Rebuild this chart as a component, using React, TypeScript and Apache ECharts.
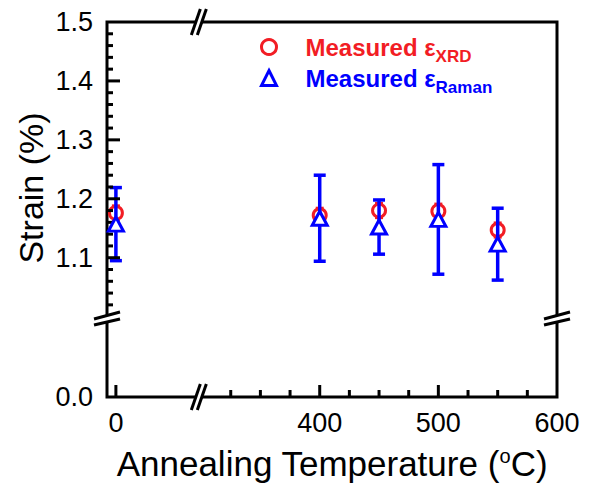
import React, { useEffect, useRef } from 'react';
import * as echarts from 'echarts';

const temps = [0, 400, 450, 500, 550];
const xrdStrain = [1.176, 1.172, 1.18, 1.179, 1.147];
const xrdErr = [0.012, 0.012, 0.012, 0.012, 0.012];
const ramanStrain = [1.157, 1.167, 1.152, 1.165, 1.123];
const ramanErr = [0.062, 0.073, 0.046, 0.093, 0.061];

const xLabelValues = [0, 400, 500, 600];
const xMajorTicks = [0, 400, 500];
const xMinorTicks = [325, 350, 375, 425, 450, 475, 525, 550, 575];
const yLabelValues = [0, 1.1, 1.2, 1.3, 1.4, 1.5];
const yMajorTicks = [1.1, 1.2, 1.3, 1.4];
const yMinorTicks = [
  1.02, 1.04, 1.06, 1.08, 1.12, 1.14, 1.16, 1.18, 1.22, 1.24, 1.26, 1.28,
  1.32, 1.34, 1.36, 1.38, 1.42, 1.44, 1.46, 1.48,
];
const X_MIN = -7.5, X_MAX = 600;
const Y_MIN = 0, Y_MAX = 1.5;
const xBreak = { start: 68, end: 300 };
const yBreak = { start: 0.13, end: 1.0 };

const RED = '#f21d24';
const BLUE = '#0000ff';
const FONT = '"Liberation Sans", Arial, Helvetica, sans-serif';

const GL = 107, GR = 557, GT = 22, GB = 397;

function errRender(capHalf: number, color: string, lw: number, withTicks: boolean) {
  return (params: any, api: any) => {
    const x = api.value(0);
    const lo = api.value(1);
    const hi = api.value(2);
    const top = api.coord([x, hi]);
    const bot = api.coord([x, lo]);
    const style = { stroke: color, lineWidth: lw, fill: 'none' };
    const children: any[] = [
      { type: 'line', shape: { x1: top[0], y1: top[1], x2: bot[0], y2: bot[1] }, style },
      { type: 'line', shape: { x1: top[0] - capHalf, y1: top[1], x2: top[0] + capHalf, y2: top[1] }, style },
      { type: 'line', shape: { x1: bot[0] - capHalf, y1: bot[1], x2: bot[0] + capHalf, y2: bot[1] }, style },
    ];
    if (withTicks && params.dataIndex === 0) {
      // inward axis ticks, placed through the axes' scales (interior partner values avoid the extent edges)
      const tickStyle = { stroke: '#000', lineWidth: 3, fill: 'none' };
      const yRef = 1.2;
      const xRef = 450;
      const addX = (vals: number[], len: number) =>
        vals.forEach((v) => {
          const px = api.coord([v, yRef])[0];
          if (isFinite(px))
            children.push({ type: 'line', shape: { x1: px, y1: GB, x2: px, y2: GB - len }, style: tickStyle });
        });
      const addY = (vals: number[], len: number) =>
        vals.forEach((v) => {
          const py = api.coord([xRef, v])[1];
          if (isFinite(py))
            children.push({ type: 'line', shape: { x1: GL, y1: py, x2: GL + len, y2: py }, style: tickStyle });
        });
      addX(xMajorTicks, 12);
      addX(xMinorTicks, 7);
      addY(yMajorTicks, 13);
      addY(yMinorTicks, 6);
    }
    return { type: 'group', children };
  };
}

function xMark(cx: number, cy: number) {
  const p1a = [cx - 7.5, cy + 13], p1b = [cx + 1.5, cy - 13];
  const p2a = [cx - 1.5, cy + 13], p2b = [cx + 7.5, cy - 13];
  const ls = { stroke: '#000', lineWidth: 3 };
  return [
    { type: 'polygon', z: 100, shape: { points: [p1a, p1b, p2b, p2a] }, style: { fill: '#fff' } },
    { type: 'line', z: 101, shape: { x1: p1a[0], y1: p1a[1], x2: p1b[0], y2: p1b[1] }, style: ls },
    { type: 'line', z: 101, shape: { x1: p2a[0], y1: p2a[1], x2: p2b[0], y2: p2b[1] }, style: ls },
  ];
}

function yMark(cx: number, cy: number) {
  const p1a = [cx - 13, cy + 0.5], p1b = [cx + 13, cy - 6.5];
  const p2a = [cx - 13, cy + 6.5], p2b = [cx + 13, cy + 0.5];
  const ls = { stroke: '#000', lineWidth: 3 };
  return [
    { type: 'polygon', z: 100, shape: { points: [p1a, p1b, p2b, p2a] }, style: { fill: '#fff' } },
    { type: 'line', z: 101, shape: { x1: p1a[0], y1: p1a[1], x2: p1b[0], y2: p1b[1] }, style: ls },
    { type: 'line', z: 101, shape: { x1: p2a[0], y1: p2a[1], x2: p2b[0], y2: p2b[1] }, style: ls },
  ];
}

export default function App() {
  const ref = useRef<HTMLDivElement>(null);
  useEffect(() => {
    if (!ref.current) return;
    const chart = echarts.init(ref.current, null, { renderer: 'svg' });

    const option: any = {
      animation: false,
      grid: {
        left: GL,
        top: GT,
        right: 595 - GR,
        bottom: 487 - GB,
        show: true,
        borderColor: '#000',
        borderWidth: 3,
        backgroundColor: 'transparent',
        outerBoundsMode: 'none',
      },
      xAxis: {
        type: 'value',
        min: X_MIN,
        max: X_MAX,
        breaks: [{ start: xBreak.start, end: xBreak.end, gap: '1%' }],
        breakArea: { show: false },
        splitLine: { show: false },
        axisLine: { show: false, onZero: false },
        axisTick: { show: false },
        axisLabel: {
          show: true,
          customValues: xLabelValues,
          fontSize: 27,
          fontFamily: FONT,
          color: '#000',
          margin: 12,
          formatter: (v: number) => String(Math.round(v)),
        },
      },
      yAxis: {
        type: 'value',
        min: Y_MIN,
        max: Y_MAX,
        breaks: [{ start: yBreak.start, end: yBreak.end, gap: '1%' }],
        breakArea: { show: false },
        splitLine: { show: false },
        axisLine: { show: false, onZero: false },
        axisTick: { show: false },
        axisLabel: {
          show: true,
          customValues: yLabelValues,
          fontSize: 27,
          fontFamily: FONT,
          color: '#000',
          margin: 14,
          formatter: (v: number) => v.toFixed(1),
        },
      },
      legend: {
        orient: 'vertical',
        left: 260,
        top: 35,
        padding: 0,
        itemWidth: 15,
        itemHeight: 15,
        itemGap: 1,
        selectedMode: false,
        data: [
          { name: 'XRD', icon: 'circle', itemStyle: { color: '#fff', borderColor: RED, borderWidth: 3 } },
          { name: 'Raman', icon: 'triangle', itemStyle: { color: '#fff', borderColor: BLUE, borderWidth: 3 } },
        ],
        formatter: (name: string) =>
          name === 'XRD' ? '{mr|Measured ε}{sr|XRD}' : '{mb|Measured ε}{sb|Raman}',
        textStyle: {
          fontFamily: FONT,
          rich: {
            mr: { fontSize: 24, fontWeight: 'bold', color: RED, fontFamily: FONT, padding: [0, 0, 0, 24] },
            sr: { fontSize: 17, fontWeight: 'bold', color: RED, fontFamily: FONT, verticalAlign: 'bottom', lineHeight: 36 },
            mb: { fontSize: 24, fontWeight: 'bold', color: BLUE, fontFamily: FONT, padding: [0, 0, 0, 24] },
            sb: { fontSize: 17, fontWeight: 'bold', color: BLUE, fontFamily: FONT, verticalAlign: 'bottom', lineHeight: 36 },
          },
        },
      },
      series: [
        {
          type: 'custom',
          name: 'XRD error',
          renderItem: errRender(4, RED, 3, false),
          data: temps.map((t, i) => [t, xrdStrain[i] - xrdErr[i], xrdStrain[i] + xrdErr[i]]),
          encode: { x: 0, y: [1, 2] },
          z: 2,
        },
        {
          type: 'scatter',
          name: 'XRD',
          symbol: 'circle',
          symbolSize: 13,
          itemStyle: { color: '#fff', borderColor: RED, borderWidth: 3, opacity: 1 },
          data: temps.map((t, i) => [t, xrdStrain[i]]),
          z: 3,
        },
        {
          type: 'custom',
          name: 'Raman error',
          renderItem: errRender(6, BLUE, 3.5, true),
          data: temps.map((t, i) => [t, ramanStrain[i] - ramanErr[i], ramanStrain[i] + ramanErr[i]]),
          encode: { x: 0, y: [1, 2] },
          z: 4,
        },
        {
          type: 'scatter',
          name: 'Raman',
          symbol: 'triangle',
          symbolSize: [15, 14],
          itemStyle: { color: '#fff', borderColor: BLUE, borderWidth: 3, opacity: 1 },
          data: temps.map((t, i) => [t, ramanStrain[i]]),
          z: 5,
        },
      ],
    };

    chart.setOption(option);

    const toX = (v: number) => {
      const r: any = chart.convertToPixel({ gridIndex: 0 } as any, [v, 1.2]);
      return Array.isArray(r) ? r[0] : NaN;
    };
    const toY = (v: number) => {
      const r: any = chart.convertToPixel({ gridIndex: 0 } as any, [450, v]);
      return Array.isArray(r) ? r[1] : NaN;
    };

    const bx = (toX(xBreak.start) + toX(xBreak.end)) / 2;
    const by = (toY(yBreak.start) + toY(yBreak.end)) / 2;
    const cxBreak = isFinite(bx) ? bx : 198;
    const cyBreak = isFinite(by) ? by : 320;

    chart.setOption({
      graphic: [
        ...xMark(cxBreak, GT),
        ...xMark(cxBreak, GB),
        ...yMark(GL, cyBreak),
        ...yMark(GR, cyBreak),
        {
          type: 'text',
          x: 31,
          y: 188,
          rotation: Math.PI / 2,
          style: {
            text: 'Strain (%)',
            fontSize: 34,
            fontFamily: FONT,
            fill: '#000',
            align: 'center',
            verticalAlign: 'middle',
          },
        },
        {
          type: 'text',
          x: 332,
          y: 463,
          style: {
            text: '{a|Annealing Temperature (}{s|o}{a|C)}',
            align: 'center',
            verticalAlign: 'middle',
            fill: '#000',
            rich: {
              a: { fontSize: 35, fontFamily: FONT, fill: '#000', color: '#000' },
              s: { fontSize: 20, fontFamily: FONT, fill: '#000', color: '#000', verticalAlign: 'top' },
            },
          },
        },
      ],
    });

    return () => chart.dispose();
  }, []);
  return (
    <div
      ref={ref}
      style={{ position: 'fixed', left: 0, top: 0, width: 595, height: 487, background: '#fff' }}
    />
  );
}
